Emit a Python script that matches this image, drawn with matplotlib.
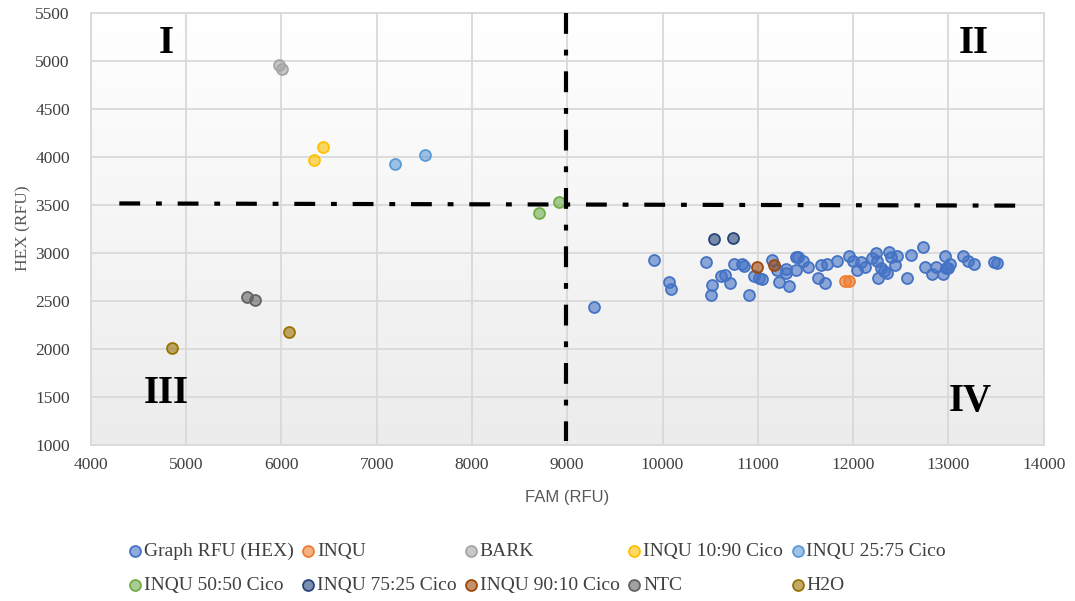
import numpy as np
import matplotlib
matplotlib.use("Agg")
import matplotlib.pyplot as plt
from matplotlib.colors import to_rgba, LinearSegmentedColormap

# ---------------- data ----------------
graph_fam = [9284, 9911, 10068, 10089, 10453, 10523, 10512, 10614, 10653, 10708,
             10747, 10837, 10858, 10908, 10963, 11010, 11047, 11146, 11198, 11226,
             11293, 11328, 11293, 11401, 11401, 11419, 11478, 11530, 11629, 11664,
             11708, 11723, 11828, 11957, 12002, 12044, 12083, 12125, 12202, 12237,
             12251, 12258, 12290, 12324, 12353, 12374, 12398, 12440, 12464, 12569,
             12605, 12734, 12755, 12825, 12867, 12947, 12961, 12978, 12999, 13017,
             13150, 13209, 13265, 13482, 13513]
graph_hex = [2438, 2924, 2692, 2622, 2903, 2664, 2563, 2757, 2765, 2681,
             2882, 2879, 2858, 2556, 2760, 2740, 2726, 2927, 2820, 2698,
             2827, 2653, 2785, 2952, 2820, 2958, 2917, 2848, 2740, 2872,
             2688, 2879, 2917, 2969, 2914, 2820, 2900, 2848, 2948, 2994,
             2914, 2733, 2837, 2809, 2792, 3011, 2958, 2872, 2966, 2740,
             2976, 3056, 2848, 2775, 2848, 2778, 2969, 2840, 2837, 2877,
             2969, 2917, 2882, 2906, 2893]

inqu_fam = [11915, 11960]
inqu_hex = [2708, 2708]
bark_fam = [5976, 6011]
bark_hex = [4958, 4910]
i1090_fam = [6346, 6434]
i1090_hex = [3969, 4101]
i2575_fam = [7190, 7505]
i2575_hex = [3924, 4021]
i5050_fam = [8707, 8917]
i5050_hex = [3414, 3531]
i7525_fam = [10537, 10737]
i7525_hex = [3140, 3150]
i9010_fam = [10992, 11167]
i9010_hex = [2848, 2869]
ntc_fam = [5637, 5724]
ntc_hex = [2542, 2510]
h2o_fam = [4850, 6084]
h2o_hex = [2010, 2174]

series_names = ["Graph RFU (HEX)", "INQU", "BARK", "INQU 10:90 Cico", "INQU 25:75 Cico",
                "INQU 50:50 Cico", "INQU 75:25 Cico", "INQU 90:10 Cico", "NTC", "H2O"]
series_colors = ["#4472C4", "#ED7D31", "#A5A5A5", "#FFC000", "#5B9BD5",
                 "#70AD47", "#264478", "#9E480E", "#636363", "#997300"]
series_x = [graph_fam, inqu_fam, bark_fam, i1090_fam, i2575_fam,
            i5050_fam, i7525_fam, i9010_fam, ntc_fam, h2o_fam]
series_y = [graph_hex, inqu_hex, bark_hex, i1090_hex, i2575_hex,
            i5050_hex, i7525_hex, i9010_hex, ntc_hex, h2o_hex]

hline_x = [4300, 13770]
hline_y = [3513, 3490]
vline_x = [8985, 8985]
vline_y = [5500, 1040]

quad_labels = ["I", "II", "III", "IV"]
quad_x = [4790, 13265, 4790, 13230]
quad_y = [5180, 5180, 1535, 1445]

x_ticks = list(range(4000, 14001, 1000))
y_ticks = list(range(1000, 5501, 500))

# ---------------- figure ----------------
fig = plt.figure(figsize=(10.75, 6.01), dpi=100)
ax = fig.add_axes([0.0844, 0.2601, 0.8865, 0.7188])

# gradient plot-area background
cmap = LinearSegmentedColormap.from_list("bg", ["#ececec", "#ffffff"])
grad = np.linspace(0, 1, 256).reshape(-1, 1)
ax.imshow(grad, extent=[0, 1, 0, 1], transform=ax.transAxes, aspect="auto",
          cmap=cmap, origin="lower", zorder=0, interpolation="bicubic")

ax.set_xlim(4000, 14000)
ax.set_ylim(1000, 5500)
ax.set_xticks(x_ticks)
ax.set_yticks(y_ticks)
ax.grid(True, color="#d9d9d9", linewidth=1.3, zorder=1)
ax.set_axisbelow(True)
for sp in ax.spines.values():
    sp.set_color("#d9d9d9")
    sp.set_linewidth(1.3)
ax.tick_params(length=0, labelsize=12.5, colors="#404040", pad=9)
for lab in ax.get_xticklabels() + ax.get_yticklabels():
    lab.set_family("Liberation Serif")
ax.tick_params(axis="y", pad=15)

# quadrant lines
dash = (0, (5.0, 3.8, 1.4, 3.8))
ax.plot(hline_x, hline_y, color="black", linewidth=3.0, linestyle=dash, zorder=4,
        dash_capstyle="butt")
ax.plot(vline_x, vline_y, color="black", linewidth=3.0, linestyle=dash, zorder=4,
        dash_capstyle="butt")

handles = []
for name, col, xs, ys in zip(series_names, series_colors, series_x, series_y):
    h = ax.scatter(xs, ys, s=62, facecolors=[to_rgba(col, 0.6)], edgecolors=[col],
                   linewidths=1.3, zorder=3, label=name)
    handles.append(h)

for t, qx, qy in zip(quad_labels, quad_x, quad_y):
    ax.text(qx, qy, t, fontsize=28, fontweight="bold", family="Liberation Serif",
            ha="center", va="center", color="black", zorder=5)

ax.set_xlabel("FAM (RFU)", fontsize=12, color="#595959",
              family=["Liberation Sans Narrow", "Liberation Sans"], labelpad=12)
ax.set_ylabel("HEX (RFU)", fontsize=12.5, color="#595959",
              family="Liberation Serif", labelpad=3)

# legend: row-wise like Excel -> reorder into column-major for matplotlib
ncol = 5
order = []
for c in range(ncol):
    order += [c, c + ncol]
leg = fig.legend([handles[i] for i in order], [series_names[i] for i in order],
                 ncol=ncol, loc="center", bbox_to_anchor=(0.5, 0.054),
                 frameon=False, prop={"family": "Liberation Serif", "size": 14},
                 handletextpad=0.15, handlelength=0.6, columnspacing=0.45,
                 labelspacing=0.85, borderaxespad=0)
for t in leg.get_texts():
    t.set_color("#404040")

fig.savefig("out.png", dpi=100)
